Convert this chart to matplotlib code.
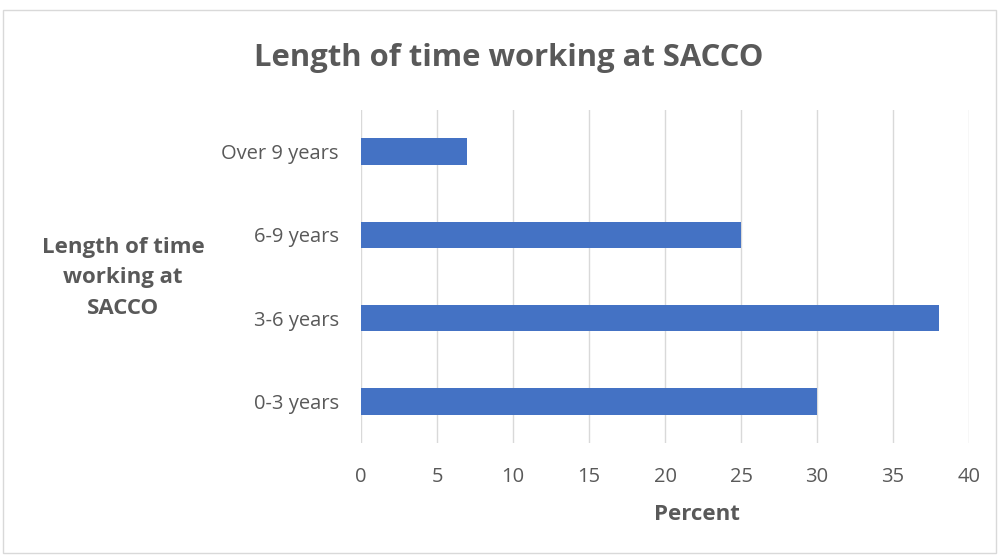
import matplotlib.pyplot as plt
from matplotlib.patches import Rectangle

categories = ["0-3 years", "3-6 years", "6-9 years", "Over 9 years"]
percent = [30, 38, 25, 7]
xticks = [0, 5, 10, 15, 20, 25, 30, 35, 40]

plt.rcParams['font.family'] = ['Open Sans', 'DejaVu Sans']
grey = "#595959"

fig = plt.figure(figsize=(9.99, 5.56), dpi=100)
ax = fig.add_axes([0.3614, 0.2032, 0.6086, 0.599])

ax.barh(categories, percent, height=0.32, color="#4472c4", zorder=3)
ax.set_xlim(0, 40)
ax.set_ylim(-0.5, len(categories) - 0.5)
ax.set_xticks(xticks)
ax.grid(axis="x", color="#d9d9d9", linewidth=1, zorder=0)
for s in ax.spines.values():
    s.set_visible(False)
ax.tick_params(length=0, labelsize=14.5, labelcolor=grey)
ax.tick_params(axis="y", pad=16)
ax.tick_params(axis="x", pad=17)

fig.text(0.698, 0.074, "Percent", ha="center", va="center",
         fontsize=16, fontweight="bold", color=grey)
fig.text(0.123, 0.5, "Length of time\nworking at\nSACCO", ha="center", va="center",
         fontsize=16, fontweight="bold", color=grey, linespacing=1.6)
fig.text(0.509, 0.896, "Length of time working at SACCO", ha="center", va="center",
         fontsize=22.3, fontweight="bold", color=grey)

fig.patches.append(Rectangle((0.003, 0.005), 0.994, 0.977, transform=fig.transFigure,
                             fill=False, edgecolor="#d9d9d9", linewidth=1))

fig.savefig("out.png", dpi=100)
